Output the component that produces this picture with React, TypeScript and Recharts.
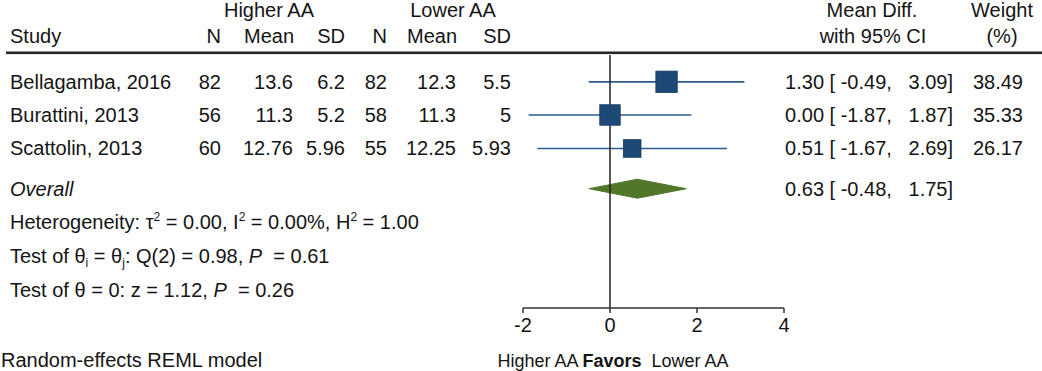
import React from 'react';
import {
  ComposedChart,
  XAxis,
  YAxis,
  Line,
  Area,
  Scatter,
  ReferenceLine,
  Customized,
} from 'recharts';

// ---------- data ----------
const studies = ['Bellagamba, 2016', 'Burattini, 2013', 'Scattolin, 2013'];
const higherN = ['82', '56', '60'];
const higherMean = ['13.6', '11.3', '12.76'];
const higherSD = ['6.2', '5.2', '5.96'];
const lowerN = ['82', '58', '55'];
const lowerMean = ['12.3', '11.3', '12.25'];
const lowerSD = ['5.5', '5', '5.93'];
const meanDiff = [1.3, 0.0, 0.51];
const ciLow = [-0.49, -1.87, -1.67];
const ciHigh = [3.09, 1.87, 2.69];
const weights = [38.49, 35.33, 26.17];
const overallEst = [0.63];
const overallLow = [-0.48];
const overallHigh = [1.75];
const xTicks = [-2, 0, 2, 4];
const xDomain = [-2, 4];

// row positions (in row units, top to bottom)
const studyRows = [0.8, 1.79, 2.79];
const overallRow = 3.99;
const yDomain = [0, 7.55];

// ---------- styles ----------
const FONT = '"Liberation Sans", Arial, Helvetica, sans-serif';
const FS = 20;
const TXT = '#141414';
const SQUARE = '#1d4975';
const CI_LINE = '#2c5c8c';
const DIAMOND = '#52772b';
const AXIS = '#333333';

const fmt = (v: number) => v.toFixed(2);
const pad = (s: string, n: number) => (s.length >= n ? s : ' '.repeat(n - s.length) + s);
const ciText = (e: number, l: number, h: number) =>
  `${fmt(e)} [${pad(fmt(l), 6)}, ${pad(fmt(h), 6)}]`;

const studyData = studies.map((name, i) => ({
  i,
  name,
  x: meanDiff[i],
  y: studyRows[i],
  w: weights[i],
}));

const diamondHalf = 0.284;
const diamondData = [
  { x: overallLow[0], band: [overallRow, overallRow] },
  { x: overallEst[0], band: [overallRow - diamondHalf, overallRow + diamondHalf] },
  { x: overallHigh[0], band: [overallRow, overallRow] },
];

const overallLabelData = [{ x: overallEst[0], y: overallRow }];

const tProps = { fontFamily: FONT, fontSize: FS, fill: TXT } as const;

function SquareShape(props: any) {
  const { cx, cy, payload } = props;
  const s = 3.45 * Math.sqrt(payload.w);
  return (
    <rect
      x={cx - s / 2}
      y={cy - s / 2}
      width={s}
      height={s}
      fill={SQUARE}
      stroke="#173d63"
      strokeWidth={0.8}
    />
  );
}

function StudyText(props: any) {
  const { cy, payload } = props;
  const i = payload.i;
  const b = cy + 7;
  return (
    <g>
      <text x={10} y={b} {...tProps}>{studies[i]}</text>
      <text x={221} y={b} textAnchor="end" {...tProps}>{higherN[i]}</text>
      <text x={293} y={b} textAnchor="end" {...tProps}>{higherMean[i]}</text>
      <text x={345} y={b} textAnchor="end" {...tProps}>{higherSD[i]}</text>
      <text x={387} y={b} textAnchor="end" {...tProps}>{lowerN[i]}</text>
      <text x={456} y={b} textAnchor="end" {...tProps}>{lowerMean[i]}</text>
      <text x={511} y={b} textAnchor="end" {...tProps}>{lowerSD[i]}</text>
      <text x={953} y={b} textAnchor="end" {...tProps} style={{ whiteSpace: 'pre' }}>
        {ciText(meanDiff[i], ciLow[i], ciHigh[i])}
      </text>
      <text x={1023} y={b} textAnchor="end" {...tProps}>{weights[i].toFixed(2)}</text>
    </g>
  );
}

function OverallText(props: any) {
  const { cy } = props;
  const b = cy + 7;
  return (
    <g>
      <text x={10} y={b} {...tProps} fontStyle="italic">Overall</text>
      <text x={953} y={b} textAnchor="end" {...tProps} style={{ whiteSpace: 'pre' }}>
        {ciText(overallEst[0], overallLow[0], overallHigh[0])}
      </text>
    </g>
  );
}

function Decorations() {
  return (
    <g>
      {/* headers */}
      <text x={269} y={17} textAnchor="middle" {...tProps}>Higher AA</text>
      <text x={453} y={17} textAnchor="middle" {...tProps}>Lower AA</text>
      <text x={872} y={17} textAnchor="middle" {...tProps}>Mean Diff.</text>
      <text x={1002} y={17} textAnchor="middle" {...tProps}>Weight</text>
      <text x={10} y={43} {...tProps}>Study</text>
      <text x={221} y={43} textAnchor="end" {...tProps}>N</text>
      <text x={294} y={43} textAnchor="end" {...tProps}>Mean</text>
      <text x={345} y={43} textAnchor="end" {...tProps}>SD</text>
      <text x={387} y={43} textAnchor="end" {...tProps}>N</text>
      <text x={457} y={43} textAnchor="end" {...tProps}>Mean</text>
      <text x={511} y={43} textAnchor="end" {...tProps}>SD</text>
      <text x={873} y={43} textAnchor="middle" {...tProps}>with 95% CI</text>
      <text x={1002} y={43} textAnchor="middle" {...tProps}>(%)</text>
      <rect x={6} y={51.5} width={1036} height={2.6} fill="#262626" />

      {/* statistics */}
      <text x={10} y={229} {...tProps}>
        Heterogeneity: τ<tspan fontSize={12} dy={-8}>2</tspan>
        <tspan dy={8}> = 0.00, I</tspan>
        <tspan fontSize={12} dy={-8}>2</tspan>
        <tspan dy={8}> = 0.00%, H</tspan>
        <tspan fontSize={12} dy={-8}>2</tspan>
        <tspan dy={8}> = 1.00</tspan>
      </text>
      <text x={10} y={263} {...tProps} style={{ whiteSpace: 'pre' }}>
        Test of θ<tspan fontSize={12} dy={4}>i</tspan>
        <tspan dy={-4}> = θ</tspan>
        <tspan fontSize={12} dy={4}>j</tspan>
        <tspan dy={-4}>: Q(2) = 0.98, </tspan>
        <tspan fontStyle="italic">P</tspan>
        <tspan>  = 0.61</tspan>
      </text>
      <text x={10} y={297} {...tProps} style={{ whiteSpace: 'pre' }}>
        Test of θ = 0: z = 1.12, <tspan fontStyle="italic">P</tspan>
        <tspan>  = 0.26</tspan>
      </text>

      {/* footer */}
      <text x={1} y={367} {...tProps}>Random-effects REML model</text>
      <text
        x={613}
        y={367}
        textAnchor="middle"
        fontFamily={FONT}
        fontSize={18}
        fill={TXT}
        style={{ whiteSpace: 'pre' }}
      >
        Higher AA <tspan fontWeight="bold">Favors</tspan>
        <tspan>  Lower AA</tspan>
      </text>
    </g>
  );
}

export default function App() {
  return (
    <div
      style={{
        position: 'absolute',
        left: 0,
        top: 0,
        width: 1042,
        height: 371,
        background: '#ffffff',
      }}
    >
      <ComposedChart
        width={1042}
        height={371}
        margin={{ top: 55, right: 258, bottom: 33, left: 523 }}
      >
        <XAxis
          type="number"
          dataKey="x"
          domain={xDomain}
          ticks={xTicks}
          interval={0}
          height={30}
          axisLine={{ stroke: AXIS, strokeWidth: 1.5 }}
          tickLine={{ stroke: AXIS, strokeWidth: 1.5 }}
          tickSize={5}
          tickMargin={5}
          tick={{ fill: TXT, fontSize: FS, fontFamily: FONT }}
        />
        <YAxis type="number" dataKey="y" domain={yDomain} reversed hide />

        {studies.map((s, i) => (
          <Line
            key={s}
            data={[
              { x: ciLow[i], y: studyRows[i] },
              { x: ciHigh[i], y: studyRows[i] },
            ]}
            dataKey="y"
            type="linear"
            stroke={CI_LINE}
            strokeWidth={1.7}
            dot={false}
            activeDot={false}
            isAnimationActive={false}
          />
        ))}

        <Area
          data={diamondData}
          dataKey="band"
          type="linear"
          fill={DIAMOND}
          fillOpacity={1}
          stroke={DIAMOND}
          strokeWidth={1}
          dot={false}
          activeDot={false}
          isAnimationActive={false}
        />

        <Scatter data={studyData} shape={SquareShape} isAnimationActive={false} />
        <Scatter data={studyData} shape={StudyText} isAnimationActive={false} />
        <Scatter data={overallLabelData} shape={OverallText} isAnimationActive={false} />

        <ReferenceLine x={0} stroke="#222222" strokeWidth={1.5} ifOverflow="visible" />
        <Customized component={Decorations} />
      </ComposedChart>
    </div>
  );
}
